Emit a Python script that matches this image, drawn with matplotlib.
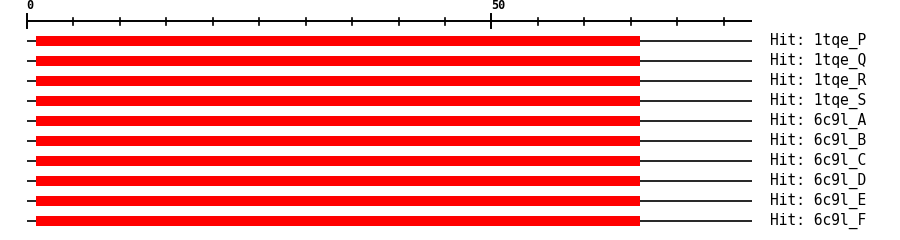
import matplotlib
matplotlib.use("Agg")
import matplotlib.pyplot as plt

# query ruler
query_length = 78
tick_step = 5
labelled_ticks = [0, 50]

# hits: name, aligned start, aligned end on the query
hit_names = ["1tqe_P", "1tqe_Q", "1tqe_R", "1tqe_S",
             "6c9l_A", "6c9l_B", "6c9l_C", "6c9l_D", "6c9l_E", "6c9l_F"]
hit_starts = [1, 1, 1, 1, 1, 1, 1, 1, 1, 1]
hit_ends = [66, 66, 66, 66, 66, 66, 66, 66, 66, 66]

fig = plt.figure(figsize=(9, 2.4), dpi=100)
ax = fig.add_axes([0, 0, 1, 1])
ax.axis("off")

# pixel mapping: 0 -> x=27, ~9.29 px per residue; rows 20 px apart, first at y=41
px_per_unit = 9.29
ax.set_xlim(-27 / px_per_unit, (900 - 27) / px_per_unit)
ax.set_ylim((240 - 41) / 20, -41 / 20)

ruler_y = -1.0
ax.plot([0, query_length], [ruler_y, ruler_y], color="black", lw=1.4,
        solid_capstyle="butt")
for t in range(0, query_length + 1, tick_step):
    if t in labelled_ticks:
        ax.plot([t, t], [ruler_y - 0.35, ruler_y + 0.35], color="black", lw=1.4)
        ax.text(t - 0.05, ruler_y - 0.45, str(t), ha="left", va="bottom",
                fontsize=8.5, fontweight="bold", family="DejaVu Sans Mono")
    else:
        ax.plot([t, t], [ruler_y - 0.15, ruler_y + 0.2], color="black", lw=1.2)

for i, name in enumerate(hit_names):
    ax.plot([0, query_length], [i, i], color="black", lw=1.2,
            solid_capstyle="butt", zorder=1)
    ax.barh(i, hit_ends[i] - hit_starts[i], left=hit_starts[i], height=0.5,
            color="#FF0000", zorder=2)
    ax.text(80.0, i, "Hit: " + name, ha="left", va="center",
            fontsize=10.5, family="DejaVu Sans Mono")

fig.savefig("out.png", dpi=100)
